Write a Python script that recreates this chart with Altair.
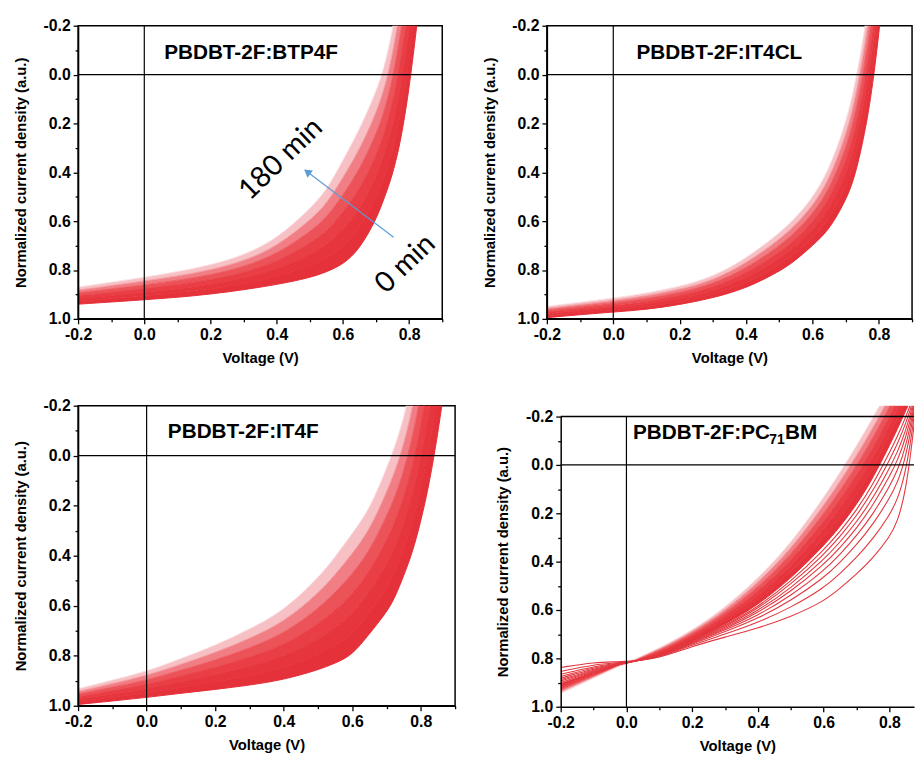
import altair as alt
import pandas as pd

# ---------------- data ----------------
# Panel 1: PBDBT-2F:BTP4F  (curves from 0 min = red to 180 min = pale pink)
BTP4F_V = [-0.2, -0.1, 0.0, 0.1, 0.2, 0.3, 0.4, 0.5, 0.55, 0.6, 0.65, 0.7, 0.725, 0.75, 0.775, 0.8, 0.825, 0.85]
BTP4F_000 = [0.940, 0.931, 0.922, 0.912, 0.899, 0.881, 0.860, 0.832, 0.808, 0.778, 0.715, 0.595, 0.505, 0.410, 0.270, 0.060, -0.220, -0.520]
BTP4F_030 = [0.928, 0.918, 0.907, 0.895, 0.879, 0.858, 0.829, 0.785, 0.753, 0.707, 0.633, 0.508, 0.416, 0.312, 0.158, -0.058, -0.333, -0.625]
BTP4F_060 = [0.917, 0.904, 0.891, 0.877, 0.859, 0.834, 0.798, 0.738, 0.697, 0.635, 0.552, 0.420, 0.327, 0.213, 0.047, -0.177, -0.447, -0.730]
BTP4F_090 = [0.905, 0.891, 0.876, 0.860, 0.840, 0.811, 0.767, 0.691, 0.642, 0.564, 0.470, 0.333, 0.238, 0.115, -0.065, -0.295, -0.560, -0.835]
BTP4F_120 = [0.893, 0.877, 0.861, 0.842, 0.820, 0.787, 0.735, 0.644, 0.586, 0.493, 0.388, 0.245, 0.148, 0.017, -0.177, -0.413, -0.673, -0.940]
BTP4F_150 = [0.882, 0.864, 0.845, 0.825, 0.800, 0.764, 0.704, 0.597, 0.531, 0.421, 0.307, 0.158, 0.059, -0.082, -0.288, -0.532, -0.787, -1.045]
BTP4F_180 = [0.870, 0.850, 0.830, 0.807, 0.780, 0.740, 0.673, 0.550, 0.475, 0.350, 0.225, 0.070, -0.030, -0.180, -0.400, -0.650, -0.900, -1.150]

# Panel 2: PBDBT-2F:IT4CL
IT4CL_V = [-0.2, -0.1, 0.0, 0.1, 0.2, 0.3, 0.4, 0.5, 0.55, 0.6, 0.65, 0.7, 0.725, 0.75, 0.775, 0.8, 0.825, 0.85]
IT4CL_000 = [0.995, 0.983, 0.972, 0.962, 0.942, 0.915, 0.875, 0.807, 0.760, 0.700, 0.637, 0.516, 0.430, 0.290, 0.110, -0.160, -0.500, -0.900]
IT4CL_030 = [0.987, 0.975, 0.963, 0.951, 0.930, 0.901, 0.855, 0.781, 0.731, 0.668, 0.596, 0.463, 0.368, 0.222, 0.033, -0.233, -0.558, -0.933]
IT4CL_060 = [0.980, 0.966, 0.953, 0.940, 0.917, 0.886, 0.834, 0.755, 0.702, 0.635, 0.555, 0.411, 0.307, 0.153, -0.043, -0.307, -0.617, -0.967]
IT4CL_090 = [0.972, 0.958, 0.944, 0.929, 0.905, 0.872, 0.814, 0.729, 0.673, 0.603, 0.514, 0.358, 0.245, 0.085, -0.120, -0.380, -0.675, -1.000]
IT4CL_120 = [0.964, 0.949, 0.934, 0.917, 0.893, 0.857, 0.794, 0.702, 0.643, 0.570, 0.472, 0.305, 0.183, 0.017, -0.197, -0.453, -0.733, -1.033]
IT4CL_150 = [0.957, 0.941, 0.925, 0.906, 0.880, 0.843, 0.773, 0.676, 0.614, 0.538, 0.431, 0.253, 0.122, -0.052, -0.273, -0.527, -0.792, -1.067]
IT4CL_180 = [0.949, 0.932, 0.915, 0.895, 0.868, 0.828, 0.753, 0.650, 0.585, 0.505, 0.390, 0.200, 0.060, -0.120, -0.350, -0.600, -0.850, -1.100]

# Panel 3: PBDBT-2F:IT4F
IT4F_V = [-0.2, -0.1, 0.0, 0.1, 0.2, 0.3, 0.4, 0.5, 0.55, 0.6, 0.65, 0.7, 0.725, 0.75, 0.775, 0.8, 0.825, 0.85, 0.875]
IT4F_000 = [0.995, 0.981, 0.967, 0.950, 0.935, 0.918, 0.896, 0.857, 0.830, 0.798, 0.712, 0.627, 0.566, 0.480, 0.390, 0.263, 0.110, -0.090, -0.330]
IT4F_030 = [0.985, 0.967, 0.950, 0.927, 0.906, 0.881, 0.850, 0.796, 0.759, 0.717, 0.629, 0.531, 0.465, 0.375, 0.275, 0.136, -0.033, -0.242, -0.483]
IT4F_060 = [0.974, 0.953, 0.932, 0.904, 0.876, 0.843, 0.804, 0.735, 0.688, 0.635, 0.546, 0.435, 0.364, 0.270, 0.160, 0.009, -0.177, -0.393, -0.637]
IT4F_090 = [0.964, 0.939, 0.915, 0.881, 0.847, 0.806, 0.758, 0.674, 0.618, 0.554, 0.464, 0.339, 0.263, 0.165, 0.045, -0.119, -0.320, -0.545, -0.790]
IT4F_120 = [0.953, 0.925, 0.898, 0.857, 0.818, 0.769, 0.712, 0.612, 0.547, 0.473, 0.381, 0.242, 0.162, 0.060, -0.070, -0.246, -0.463, -0.697, -0.943]
IT4F_150 = [0.943, 0.911, 0.880, 0.834, 0.788, 0.731, 0.666, 0.551, 0.476, 0.391, 0.298, 0.146, 0.061, -0.045, -0.185, -0.373, -0.607, -0.848, -1.097]
IT4F_180 = [0.932, 0.897, 0.863, 0.811, 0.759, 0.694, 0.620, 0.490, 0.405, 0.310, 0.215, 0.050, -0.040, -0.150, -0.300, -0.500, -0.750, -1.000, -1.250]

# Panel 4: PBDBT-2F:PC71BM  (dense band = later scans, spread red lines = early scans)
PC71BM_V = [-0.2, -0.1, 0.0, 0.1, 0.2, 0.3, 0.4, 0.5, 0.6, 0.65, 0.7, 0.75, 0.8, 0.825, 0.85, 0.875, 0.9]
PC71BM_B0 = [0.905, 0.857, 0.818, 0.790, 0.725, 0.660, 0.580, 0.470, 0.335, 0.255, 0.165, 0.055, -0.080, -0.150, -0.225, -0.300, -0.380]
PC71BM_B1 = [0.912, 0.861, 0.818, 0.785, 0.718, 0.648, 0.562, 0.446, 0.302, 0.218, 0.124, 0.013, -0.120, -0.190, -0.264, -0.340, -0.420]
PC71BM_B2 = [0.918, 0.865, 0.818, 0.779, 0.711, 0.637, 0.543, 0.422, 0.268, 0.180, 0.083, -0.028, -0.160, -0.230, -0.303, -0.380, -0.460]
PC71BM_B3 = [0.925, 0.870, 0.818, 0.774, 0.705, 0.625, 0.525, 0.398, 0.235, 0.143, 0.043, -0.070, -0.200, -0.270, -0.343, -0.420, -0.500]
PC71BM_B4 = [0.932, 0.874, 0.818, 0.769, 0.698, 0.613, 0.507, 0.373, 0.202, 0.105, 0.002, -0.112, -0.240, -0.310, -0.382, -0.460, -0.540]
PC71BM_B5 = [0.938, 0.878, 0.818, 0.763, 0.691, 0.602, 0.488, 0.349, 0.168, 0.068, -0.039, -0.153, -0.280, -0.350, -0.421, -0.500, -0.580]
PC71BM_B6 = [0.945, 0.882, 0.818, 0.758, 0.684, 0.590, 0.470, 0.325, 0.135, 0.030, -0.080, -0.195, -0.320, -0.390, -0.460, -0.540, -0.620]
PC71BM_S1 = [0.900, 0.854, 0.818, 0.791, 0.727, 0.664, 0.588, 0.483, 0.353, 0.275, 0.188, 0.081, -0.050, -0.119, -0.198, -0.288, -0.420]
PC71BM_S2 = [0.894, 0.850, 0.818, 0.792, 0.729, 0.668, 0.595, 0.495, 0.372, 0.296, 0.211, 0.108, -0.019, -0.088, -0.171, -0.276, -0.430]
PC71BM_S3 = [0.888, 0.847, 0.817, 0.793, 0.731, 0.673, 0.604, 0.510, 0.393, 0.319, 0.237, 0.138, 0.015, -0.054, -0.141, -0.263, -0.440]
PC71BM_S4 = [0.882, 0.843, 0.817, 0.793, 0.734, 0.678, 0.612, 0.524, 0.413, 0.342, 0.263, 0.167, 0.049, -0.019, -0.111, -0.249, -0.450]
PC71BM_S5 = [0.875, 0.838, 0.817, 0.795, 0.736, 0.683, 0.623, 0.541, 0.439, 0.370, 0.294, 0.204, 0.091, 0.023, -0.074, -0.233, -0.460]
PC71BM_S6 = [0.866, 0.833, 0.816, 0.796, 0.740, 0.690, 0.635, 0.562, 0.468, 0.403, 0.331, 0.246, 0.140, 0.073, -0.031, -0.213, -0.470]
PC71BM_S7 = [0.854, 0.825, 0.816, 0.798, 0.744, 0.700, 0.652, 0.590, 0.510, 0.449, 0.383, 0.306, 0.209, 0.143, 0.030, -0.186, -0.480]
PC71BM_S8 = [0.838, 0.815, 0.815, 0.800, 0.750, 0.712, 0.675, 0.628, 0.565, 0.510, 0.452, 0.385, 0.300, 0.235, 0.110, -0.150, -0.500]

# annotation arrow (panel 1), tail -> head
ARROW_V = [0.753, 0.492]
ARROW_J = [0.666, 0.398]

# tick values
X_MAJOR = [-0.2, 0.0, 0.2, 0.4, 0.6, 0.8]
X_MINOR = [-0.1, 0.1, 0.3, 0.5, 0.7, 0.9]
Y_MAJOR = [-0.2, 0.0, 0.2, 0.4, 0.6, 0.8, 1.0]
Y_MINOR = [-0.1, 0.1, 0.3, 0.5, 0.7, 0.9]

# ---------------- styles ----------------
FONT = "Liberation Sans"
RED_STEPS = ["#e52f38", "#e6323b", "#e8383f", "#ea454b", "#ee6067", "#f39ba0", "#fbe2e5"]
BAND_STEPS = ["#e5313a", "#e7353d", "#e93e45", "#ec5359", "#f07e84", "#f7c0c4"]
RED_STEPS_PC = ["#e52f38", "#e6323b", "#e7353d", "#e93b42", "#eb474e", "#f07a80", "#fadadd"]
BAND_STEPS_PC = ["#e5313a", "#e6343c", "#e8383f", "#ea4148", "#ee6168", "#f5aab0"]
SPREAD_RED = "#e2363e"
ARROW_BLUE = "#5b9bd5"
LABEL_EXPR = "datum.value < 0 ? '-' + format(-datum.value, '.1f') : format(datum.value, '.1f')"
DUMMY = pd.DataFrame({"k": [0]})
INTERP = "basis"


def panel(V, curves, xmax, width, height, extra=(), y_range=None,
          red_steps=RED_STEPS, band_steps=BAND_STEPS):
    xs = alt.Scale(domain=[-0.2, xmax], nice=False, zero=False)
    if y_range is None:
        ys = alt.Scale(domain=[-0.2, 1.0], reverse=True, nice=False, zero=False)
    else:
        ys = alt.Scale(domain=[-0.2, 1.0], range=y_range, nice=False, zero=False)
    xminor = [v for v in X_MINOR if v <= xmax + 1e-9]

    line_rows = [{"V": v, "J": j, "curve": k}
                 for k, c in enumerate(curves) for v, j in zip(V, c)]
    band_rows = [{"V": v, "lo": a, "hi": b, "band": k}
                 for k in range(len(curves) - 1)
                 for v, a, b in zip(V, curves[k], curves[k + 1])]

    ax_x_major = alt.Axis(orient="bottom", values=X_MAJOR, labelExpr=LABEL_EXPR, tickSize=5,
                          labelPadding=3, labelFlush=False, labelOverlap=False, grid=False,
                          title="Voltage (V)", titlePadding=8, zindex=1)
    ax_x_minor = alt.Axis(orient="bottom", values=xminor, labels=False, domain=False,
                          tickSize=3, grid=False, title=None, zindex=1)
    ax_y_major = alt.Axis(orient="left", values=Y_MAJOR, labelExpr=LABEL_EXPR, tickSize=5,
                          labelPadding=3, labelOverlap=False, grid=False,
                          title="Normalized current density (a.u.)", titlePadding=15, zindex=1)
    ax_y_minor = alt.Axis(orient="left", values=Y_MINOR, labels=False, domain=False,
                          tickSize=3, grid=False, title=None, zindex=1)

    bands = alt.Chart(pd.DataFrame(band_rows)).mark_area(interpolate=INTERP, clip=True).encode(
        x=alt.X("V:Q", scale=xs, axis=ax_x_minor),
        y=alt.Y("lo:Q", scale=ys, axis=ax_y_minor, stack=None),
        y2="hi:Q",
        fill=alt.Fill("band:N", scale=alt.Scale(domain=list(range(len(curves) - 1)), range=band_steps), legend=None),
    )
    lines = alt.Chart(pd.DataFrame(line_rows)).mark_line(interpolate=INTERP, clip=True, strokeWidth=1.0).encode(
        x=alt.X("V:Q", scale=xs, axis=ax_x_major),
        y=alt.Y("J:Q", scale=ys, axis=ax_y_major),
        stroke=alt.Stroke("curve:N", scale=alt.Scale(domain=list(range(len(curves))), range=red_steps), legend=None),
    )
    hz = alt.Chart(DUMMY).mark_rule(color="black", strokeWidth=1.2).encode(
        y=alt.YDatum(0, scale=ys, axis=None))
    vz = alt.Chart(DUMMY).mark_rule(color="black", strokeWidth=1.2).encode(
        x=alt.XDatum(0, scale=xs, axis=None),
        y=alt.YDatum(-0.2, scale=ys, axis=None), y2=alt.Y2Datum(1.0))
    layers = [bands, lines]
    layers += [f(xs, ys) for f in extra]
    if y_range is not None:
        # white strip above the plot top (the plot starts lower in this panel)
        mask = alt.Chart(DUMMY).mark_rect(color="white").encode(
            x=alt.value(0), x2=alt.value(width), y=alt.value(0),
            y2=alt.Y2Datum(-0.2))
        top = alt.Chart(DUMMY).mark_rule(color="black", strokeWidth=1.5).encode(
            y=alt.YDatum(-0.2, scale=ys, axis=None))
        layers += [mask, top]
    layers += [hz, vz]
    ch = alt.layer(*layers).resolve_axis(x="independent", y="independent").properties(
        width=width, height=height)
    if y_range is not None:
        ch = ch.properties(view=alt.ViewBackground(stroke="transparent"))
    return ch


def label(text, x, y, size=21, weight="bold", font=FONT, dx=0, dy=0, angle=0, align="left"):
    def f(xs, ys):
        return alt.Chart(DUMMY).mark_text(
            text=text, align=align, baseline="middle", font=font, fontWeight=weight,
            fontSize=size, color="black", dx=dx, dy=dy, angle=angle).encode(
            x=alt.XDatum(x, scale=xs, axis=None), y=alt.YDatum(y, scale=ys, axis=None))
    return f


def arrow_line(xs, ys):
    return alt.Chart(pd.DataFrame({"V": ARROW_V, "J": ARROW_J})).mark_line(
        color=ARROW_BLUE, strokeWidth=1.1).encode(
        x=alt.X("V:Q", scale=xs, axis=None), y=alt.Y("J:Q", scale=ys, axis=None))


def arrow_head(xs, ys):
    return alt.Chart(pd.DataFrame({"V": ARROW_V[1:], "J": ARROW_J[1:]})).mark_point(
        shape="triangle-up", filled=True, size=80, angle=307, color=ARROW_BLUE, opacity=1).encode(
        x=alt.X("V:Q", scale=xs, axis=None), y=alt.Y("J:Q", scale=ys, axis=None))


def spread_lines(xs, ys):
    spread = [PC71BM_S1, PC71BM_S2, PC71BM_S3, PC71BM_S4, PC71BM_S5, PC71BM_S6, PC71BM_S7, PC71BM_S8]
    rows = [{"V": v, "J": j, "line": k} for k, c in enumerate(spread) for v, j in zip(PC71BM_V, c)]
    return alt.Chart(pd.DataFrame(rows)).mark_line(
        interpolate=INTERP, clip=True, strokeWidth=1.1, color=SPREAD_RED).encode(
        x=alt.X("V:Q", scale=xs, axis=None), y=alt.Y("J:Q", scale=ys, axis=None),
        detail="line:N")


p1 = panel(BTP4F_V, [BTP4F_000, BTP4F_030, BTP4F_060, BTP4F_090, BTP4F_120, BTP4F_150, BTP4F_180],
           0.9, 369, 297,
           extra=[arrow_line, arrow_head,
                  label("180 min", 0.412, 0.345, size=29, weight="normal", font="Lato", angle=316, align="center"),
                  label("0 min", 0.788, 0.774, size=29, weight="normal", font="Lato", angle=316, align="center"),
                  label("PBDBT-2F:BTP4F", 0.06, -0.087)])
p2 = panel(IT4CL_V, [IT4CL_000, IT4CL_030, IT4CL_060, IT4CL_090, IT4CL_120, IT4CL_150, IT4CL_180],
           0.9, 370, 297, extra=[label("PBDBT-2F:IT4CL", 0.07, -0.087)])
p3 = panel(IT4F_V, [IT4F_000, IT4F_030, IT4F_060, IT4F_090, IT4F_120, IT4F_150, IT4F_180],
           0.9, 382, 304, extra=[label("PBDBT-2F:IT4F", 0.062, -0.093)])
p4 = panel(PC71BM_V, [PC71BM_B0, PC71BM_B1, PC71BM_B2, PC71BM_B3, PC71BM_B4, PC71BM_B5, PC71BM_B6],
           0.875, 358, 305,
           extra=[spread_lines,
                  label("PBDBT-2F:PC", 0.02, -0.13),
                  label("71", 0.02, -0.13, size=14, dx=138, dy=7),
                  label("BM", 0.02, -0.13, dx=154)],
           y_range=[11, 305], red_steps=RED_STEPS_PC, band_steps=BAND_STEPS_PC)

row1 = alt.hconcat(p1, p2, spacing=37)
row2 = alt.hconcat(p3, p4, spacing=38)
chart = alt.vconcat(row1, row2, spacing=31).properties(
    padding={"left": 4, "top": 4, "right": 0, "bottom": 0}
).configure_view(stroke="black", strokeWidth=1.5).configure_axis(
    labelFont=FONT, labelFontSize=16, labelFontWeight="bold", labelColor="black",
    titleFont=FONT, titleFontSize=15, titleFontWeight="bold", titleColor="black",
    domainColor="black", domainWidth=1.5, tickColor="black", tickWidth=1.3,
)

chart.save("out.html", embed_options={"renderer": "svg", "actions": False})
